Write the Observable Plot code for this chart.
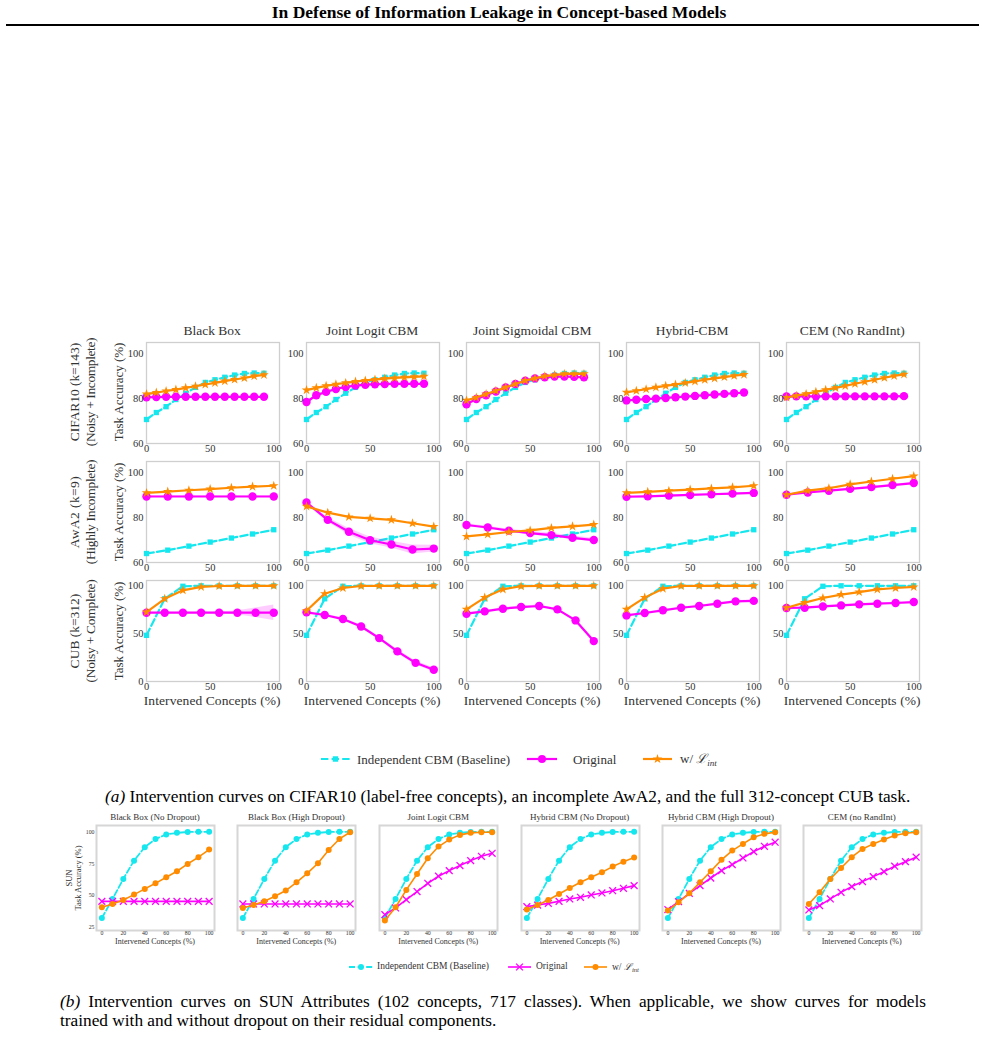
<!DOCTYPE html>
<html><head><meta charset="utf-8">
<script src="https://cdn.jsdelivr.net/npm/d3@7"></script>
<script src="https://cdn.jsdelivr.net/npm/@observablehq/plot@0.6"></script>
<style>
body{margin:0;background:#fff;}
#page{position:relative;width:985px;height:1037px;overflow:hidden;font-family:"Liberation Serif","Times New Roman",serif;color:#000;background:#fff;}
.abs{position:absolute;white-space:nowrap;line-height:1;}
</style></head>
<body><div id="page"></div>
<script>
// ---------------- DATA ----------------
const models = ["Black Box", "Joint Logit CBM", "Joint Sigmoidal CBM", "Hybrid-CBM", "CEM (No RandInt)"];
const rowNames = [["CIFAR10 (k=143)", "(Noisy + Incomplete)"], ["AwA2 (k=9)", "(Highly Incomplete)"], ["CUB (k=312)", "(Noisy + Complete)"]];

const cifarX = [0, 7.7, 15.4, 23.1, 30.8, 38.5, 46.2, 53.8, 61.5, 69.2, 76.9, 84.6, 92.3];
const cifarBaseline = [70.7, 73.8, 76.4, 79.6, 82.4, 85, 87.2, 88.4, 89.5, 90.5, 91.2, 91.4, 91.3];
const cifarOriginal = [
  [80.6, 80.7, 80.8, 80.8, 80.8, 80.8, 80.8, 80.8, 80.8, 80.8, 80.8, 80.8, 80.8],
  [78.5, 81.5, 83, 84.3, 85.2, 85.8, 86.2, 86.4, 86.5, 86.6, 86.6, 86.6, 86.6],
  [77.5, 79.8, 81.5, 83.2, 85, 86.5, 88, 89, 89.5, 89.8, 89.8, 89.7, 89.5],
  [79.2, 79.5, 79.8, 80, 80.3, 80.6, 80.9, 81.2, 81.5, 81.8, 82.1, 82.4, 82.7],
  [81, 81, 81, 81, 81, 81, 81, 81, 81, 81, 81, 81, 81.1]
];
const cifarLint = [
  [82, 82.7, 83.4, 84, 84.8, 85.5, 86.3, 87, 87.8, 88.5, 89.2, 90, 90.6],
  [83.8, 84.8, 85.7, 86.4, 87, 87.6, 88.1, 88.5, 88.9, 89.2, 89.5, 89.7, 89.9],
  [79.2, 80.5, 82, 83.5, 85, 86.5, 88, 89, 90, 90.5, 91, 91, 91],
  [82.8, 83.5, 84.2, 85, 85.7, 86.3, 87, 87.7, 88.4, 89, 89.6, 90.2, 90.7],
  [80.5, 81.3, 82.1, 83, 83.9, 84.8, 85.7, 86.6, 87.5, 88.4, 89.3, 90.1, 90.8]
];

const awaX = [0, 16.7, 33.3, 50, 66.7, 83.3, 100];
const awaBaseline = [64, 65.5, 67.3, 69.1, 70.9, 72.7, 74.6];
const awaOriginal = [
  [89.4, 89.4, 89.4, 89.4, 89.4, 89.4, 89.4],
  [86.7, 79, 73.7, 69.9, 68, 65.8, 66.2],
  [76.7, 75.6, 74.2, 73.1, 72.2, 71, 70],
  [89.3, 89.5, 89.8, 90.1, 90.4, 90.7, 91],
  [90.2, 91.2, 92, 92.8, 93.6, 94.5, 95.4]
];
const awaOriginalStd = [
  [0.3, 0.3, 0.3, 0.3, 0.3, 0.3, 0.3],
  [0.6, 1, 1.5, 1.5, 1.5, 2, 1.5],
  [0.6, 0.6, 0.6, 0.8, 0.8, 0.8, 0.8],
  [0.3, 0.3, 0.3, 0.3, 0.3, 0.3, 0.3],
  [0.3, 0.3, 0.3, 0.3, 0.3, 0.3, 0.3]
];
const awaLint = [
  [91, 91.6, 92.2, 92.7, 93.3, 93.8, 94.2],
  [85, 82.2, 80.3, 79.7, 79, 77.5, 76],
  [71.6, 72.5, 73.6, 74.3, 75.4, 76.1, 76.9],
  [91, 91.5, 92, 92.5, 93, 93.5, 94.2],
  [90.2, 92, 93.1, 94.8, 96.1, 97.3, 98.5]
];

const cubX = [0, 14.3, 28.6, 42.9, 57.1, 71.4, 85.7, 100];
const cubBaseline = [48, 86, 99, 99.5, 99.5, 99.5, 99.5, 99.5];
const cubOriginal = [
  [71.5, 71.5, 71.5, 71.5, 71.5, 71.5, 71.5, 71.5],
  [71.9, 69.1, 64.9, 57.2, 45.1, 31.3, 19.4, 12.2],
  [70.5, 72.9, 75.7, 77.4, 78.5, 75, 63.5, 42],
  [68.7, 71.2, 74, 76.7, 78.5, 80.9, 83.3, 83.8],
  [76.4, 76.7, 78, 79.1, 80.2, 80.9, 81.6, 82.6]
];
const cubOriginalStd = [
  [0.5, 0.5, 0.5, 0.5, 0.8, 2, 5, 8],
  [1, 1, 1, 1.5, 1.5, 2, 2, 2],
  [1, 1, 1, 1, 1, 1, 1.5, 1.5],
  [0.8, 0.8, 0.8, 0.8, 0.8, 0.8, 0.8, 0.8],
  [0.8, 0.8, 0.8, 0.8, 0.8, 0.8, 0.8, 0.8]
];
const cubLint = [
  [72.2, 86, 94.8, 98.3, 99.3, 99.5, 99.5, 99.5],
  [73.6, 91.3, 97.2, 99.3, 99.5, 99.5, 99.5, 99.5],
  [75, 87.2, 95.8, 99, 99.5, 99.5, 99.5, 99.5],
  [75, 87.2, 96.5, 99.3, 99.5, 99.5, 99.5, 99.5],
  [76.7, 82, 86.8, 90.3, 93, 95.8, 97.2, 98.3]
];

const sunModels = ["Black Box (No Dropout)", "Black Box (High Dropout)", "Joint Logit CBM", "Hybrid CBM (No Dropout)", "Hybrid CBM (High Dropout)", "CEM (no RandInt)"];
const sunX = [0, 10, 20, 30, 40, 50, 60, 70, 80, 90, 100];
const sunBaseline = [32.4, 47.4, 63.2, 77.6, 88.2, 94.7, 98.2, 99.5, 100.2, 100.3, 100.3];
const sunOriginal = [
  [45.5, 45.5, 45.5, 45.5, 45.5, 45.5, 45.5, 45.5, 45.5, 45.5, 45.5],
  [43.4, 43.4, 43.4, 43.4, 43.4, 43.4, 43.4, 43.4, 43.4, 43.4, 43.4],
  [35, 40.3, 46.8, 53.2, 59.7, 65.3, 69.7, 73.7, 77.6, 81, 83.4],
  [41.3, 42.6, 43.9, 45.5, 47.4, 48.7, 50.5, 52.1, 53.9, 55.8, 57.9],
  [39, 45.3, 51.8, 57.9, 63.9, 69.7, 74.5, 79.7, 84.7, 88.9, 92.1],
  [38.7, 42.1, 47.4, 52.6, 57.1, 61.1, 65, 68.9, 73.2, 76.8, 80.3]
];
const sunLint = [
  [40.8, 43.4, 46.6, 50.8, 55.3, 59.7, 64.5, 69.2, 75, 80.3, 86.3],
  [40.3, 42.6, 45.5, 49.5, 54, 60.5, 67.6, 75.5, 86, 94.7, 100],
  [30.3, 40.8, 54.5, 67.1, 79.5, 88.7, 94.2, 97.9, 99.5, 100, 100],
  [39, 42.6, 46.6, 51.3, 56, 60.5, 64.5, 68.4, 72.9, 76.8, 80],
  [38.2, 44.7, 51.8, 60.5, 69.2, 78.2, 85.5, 90.8, 96, 98.7, 100],
  [43.4, 52.6, 63.2, 71.8, 80.3, 86.8, 90.8, 94.2, 97.4, 99.2, 100]
];

const yTicksTop = [60, 80, 100];
const yTicksCub = [0, 50, 100];
const xTicksTop = [0, 50, 100];
const xTicksSun = [0, 20, 40, 60, 80, 100];
const yTicksSun = [25, 50, 75, 100];

// ---------------- STYLE ----------------
const CYAN = "#16e7ee", MAGENTA = "#ff00ff", ORANGE = "#ff8c00";
const FONT = '"Liberation Serif","Times New Roman",serif';
const TXT = "#333";
const page = document.getElementById("page");

function txt(parts, x, y, o = {}) {
  const d = document.createElement("div");
  d.className = "abs";
  for (const p of (Array.isArray(parts) ? parts : [[parts]])) {
    const s = document.createElement("span");
    s.textContent = p[0];
    if (p[1]) s.style.cssText = p[1];
    d.appendChild(s);
  }
  d.style.left = x + "px";
  d.style.top = y + "px";
  d.style.fontSize = (o.size || 13) + "px";
  d.style.color = o.color || TXT;
  if (o.weight) d.style.fontWeight = o.weight;
  const ax = o.anchor === "start" ? "0" : o.anchor === "end" ? "-100%" : "-50%";
  d.style.transform = `translate(${ax}, -50%)` + (o.rotate ? ` rotate(${o.rotate}deg)` : "");
  page.appendChild(d);
  if (o.fit) {
    const n = d.textContent.length;
    const w0 = d.offsetWidth;
    d.style.letterSpacing = ((o.fit - w0) / n) + "px";
  }
  return d;
}

function panel(o) {
  const ml = o.ml, mr = 8, mt = 6, mb = o.mb;
  const marks = [Plot.frame({stroke: o.frameStroke, strokeWidth: o.frameWidth})];
  for (const s of o.series) {
    const rows = s.x.map((x, i) => ({x, y: s.y[i], lo: s.sd ? s.y[i] - s.sd[i] : s.y[i], hi: s.sd ? s.y[i] + s.sd[i] : s.y[i]}));
    if (s.sd) marks.push(Plot.areaY(rows, {x: "x", y1: "lo", y2: "hi", fill: s.color, fillOpacity: 0.2}));
    marks.push(Plot.line(rows, {x: "x", y: "y", stroke: s.color, strokeWidth: s.sw, strokeDasharray: s.dash}));
    if (s.symbol === "times")
      marks.push(Plot.dot(rows, {x: "x", y: "y", symbol: "times", r: s.r, stroke: s.color, strokeWidth: 1.3}));
    else
      marks.push(Plot.dot(rows, {x: "x", y: "y", symbol: s.symbol, r: s.r, fill: s.color, stroke: "none"}));
  }
  marks.push(Plot.axisX({ticks: o.xTicks, tickSize: 0, tickPadding: o.xpad, label: null}));
  if (o.yTicks) marks.push(Plot.axisY({ticks: o.yTicks, tickSize: 0, tickPadding: o.ypad, label: null}));
  const svg = Plot.plot({
    width: ml + o.w + mr, height: mt + o.h + mb,
    marginLeft: ml, marginRight: mr, marginTop: mt, marginBottom: mb,
    x: {domain: o.xDomain, label: null},
    y: {domain: o.yDomain, label: null, axis: o.yTicks ? undefined : null},
    style: {background: "transparent", overflow: "visible", fontFamily: FONT, fontSize: o.fs + "px", color: TXT},
    marks
  });
  svg.style.position = "absolute";
  svg.style.left = (o.left - ml) + "px";
  svg.style.top = (o.top - mt) + "px";
  page.appendChild(svg);
}

function glyph(left, top, color, type, size, dash, w, sw, stroked) {
  const sym = d3.symbol(type, size)();
  const dashAttr = dash ? `stroke-dasharray="${dash}"` : "";
  const symAttr = stroked ? `fill="none" stroke="${color}" stroke-width="1.3"` : `fill="${color}"`;
  const d = document.createElement("div");
  d.style.cssText = `position:absolute;left:${left}px;top:${top - 7}px;`;
  d.innerHTML = `<svg width="${w}" height="14" style="display:block;overflow:visible"><line x1="0" x2="${w}" y1="7" y2="7" stroke="${color}" stroke-width="${sw}" ${dashAttr}/><path transform="translate(${w / 2},7)" d="${sym}" ${symAttr}/></svg>`;
  page.appendChild(d);
}

// ---------------- HEADER ----------------
txt("In Defense of Information Leakage in Concept-based Models", 499, 13, {size: 17.5, weight: "bold", color: "#000"});
const rule = document.createElement("div");
rule.style.cssText = "position:absolute;left:6px;top:24px;width:973px;height:2px;background:#000;";
page.appendChild(rule);

// ---------------- TOP GRID ----------------
const colLefts = [145.7, 305.7, 465.7, 625.7, 785.7];
const rowTops = [341.5, 461, 580];
const rowLabelFit = [[98, 108], [72, 105], [75, 103]];
const rowsData = [
  {x: cifarX, base: cifarBaseline, orig: cifarOriginal, sd: null, lint: cifarLint, yDomain: [60, 105], yTicks: yTicksTop},
  {x: awaX, base: awaBaseline, orig: awaOriginal, sd: awaOriginalStd, lint: awaLint, yDomain: [60, 105], yTicks: yTicksTop},
  {x: cubX, base: cubBaseline, orig: cubOriginal, sd: cubOriginalStd, lint: cubLint, yDomain: [0, 105], yTicks: yTicksCub}
];
rowsData.forEach((rd, r) => {
  models.forEach((m, c) => {
    panel({
      left: colLefts[c], top: rowTops[r], w: 133, h: 101, ml: 30, mb: 16,
      xDomain: [0, 104.5], yDomain: rd.yDomain, xTicks: xTicksTop, yTicks: rd.yTicks,
      xpad: 1, ypad: 3, fs: 10.5, frameStroke: "#cfcfcf", frameWidth: 1.3,
      series: [
        {x: rd.x, y: rd.base, color: CYAN, symbol: "square", r: 3, sw: 2.2, dash: "7.4,3.2"},
        {x: rd.x, y: rd.orig[c], sd: rd.sd ? rd.sd[c] : null, color: MAGENTA, symbol: "circle", r: 4.2, sw: 2.2},
        {x: rd.x, y: rd.lint[c], color: ORANGE, symbol: "star", r: 3, sw: 2.2}
      ]
    });
    if (r === 0) txt(m, colLefts[c] + 66.5, 330.7, {size: 13.5});
    if (r === 2) txt("Intervened Concepts (%)", colLefts[c] + 66.5, 701, {size: 13.5, fit: 137});
  });
  const cy = rowTops[r] + 50.5;
  txt("Task Accuracy (%)", 118.3, cy, {size: 13, rotate: -90, fit: 98});
  txt(rowNames[r][0], 75, cy, {size: 13.5, rotate: -90, fit: rowLabelFit[r][0]});
  txt(rowNames[r][1], 90.5, cy, {size: 13.5, rotate: -90, fit: rowLabelFit[r][1]});
});

// legend (a)
glyph(321, 759, CYAN, d3.symbolSquare, 30, "7.4,3.2", 29, 2.2, false);
txt("Independent CBM (Baseline)", 357, 759, {size: 13, anchor: "start"});
glyph(527, 759, MAGENTA, d3.symbolCircle, 50, null, 30, 2.2, false);
txt("Original", 573, 759, {size: 13, anchor: "start"});
glyph(643, 759, ORANGE, d3.symbolStar, 28, null, 29, 2.2, false);
txt([["w/ "], ["ℒ", "font-style:italic"], ["int", "font-style:italic;font-size:0.7em;vertical-align:-0.35em"]], 680, 760, {size: 13, anchor: "start"});

txt([["(a)", "font-style:italic"], [" Intervention curves on CIFAR10 (label-free concepts), an incomplete AwA2, and the full 312-concept CUB task."]], 105, 797, {size: 17.3, anchor: "start", color: "#000"});

// ---------------- SUN ROW ----------------
const sunLefts = [96, 237.3, 379.3, 520.7, 662, 802.7];
sunModels.forEach((m, c) => {
  panel({
    left: sunLefts[c], top: 825, w: 118, h: 105, ml: 16, mb: 8,
    xDomain: [-5, 105], yDomain: [22.5, 105.3], xTicks: xTicksSun, yTicks: c === 0 ? yTicksSun : null,
    xpad: 0, ypad: 2, fs: 5.8, frameStroke: "#d6d6d6", frameWidth: 2,
    series: [
      {x: sunX, y: sunBaseline, color: CYAN, symbol: "circle", r: 3, sw: 1.8, dash: "6,2.6"},
      {x: sunX, y: sunOriginal[c], color: MAGENTA, symbol: "times", r: 3.2, sw: 1.6},
      {x: sunX, y: sunLint[c], color: ORANGE, symbol: "circle", r: 3, sw: 1.6}
    ]
  });
  txt(m, sunLefts[c] + 59, 817, {size: 9});
  txt("Intervened Concepts (%)", sunLefts[c] + 59, 941.5, {size: 8});
});
txt("SUN", 69.3, 877.5, {size: 8.5, rotate: -90});
txt("Task Accuracy (%)", 78.3, 877.5, {size: 8.5, rotate: -90});

glyph(349, 967, CYAN, d3.symbolCircle, 28, "6,2.6", 24, 1.8, false);
txt("Independent CBM (Baseline)", 377, 967, {size: 9.5, anchor: "start"});
glyph(508, 967, MAGENTA, d3.symbolTimes, 32, null, 23, 1.6, true);
txt("Original", 536, 967, {size: 9.5, anchor: "start"});
glyph(584, 967, ORANGE, d3.symbolCircle, 28, null, 23, 1.6, false);
txt([["w/ "], ["ℒ", "font-style:italic"], ["int", "font-style:italic;font-size:0.7em;vertical-align:-0.35em"]], 612, 968, {size: 9.5, anchor: "start"});

// caption (b)
const capB1 = document.createElement("div");
capB1.style.cssText = "position:absolute;left:60px;top:992px;width:866px;font-size:17.3px;line-height:19px;white-space:nowrap;text-align:justify;text-align-last:justify;color:#000;";
const bI = document.createElement("span"); bI.style.fontStyle = "italic"; bI.textContent = "(b)";
const bT = document.createElement("span"); bT.textContent = " Intervention curves on SUN Attributes (102 concepts, 717 classes).  When applicable, we show curves for models";
capB1.appendChild(bI); capB1.appendChild(bT);
page.appendChild(capB1);
txt("trained with and without dropout on their residual components.", 60, 1021, {size: 17.3, anchor: "start", color: "#000"});
</script>
</body></html>
